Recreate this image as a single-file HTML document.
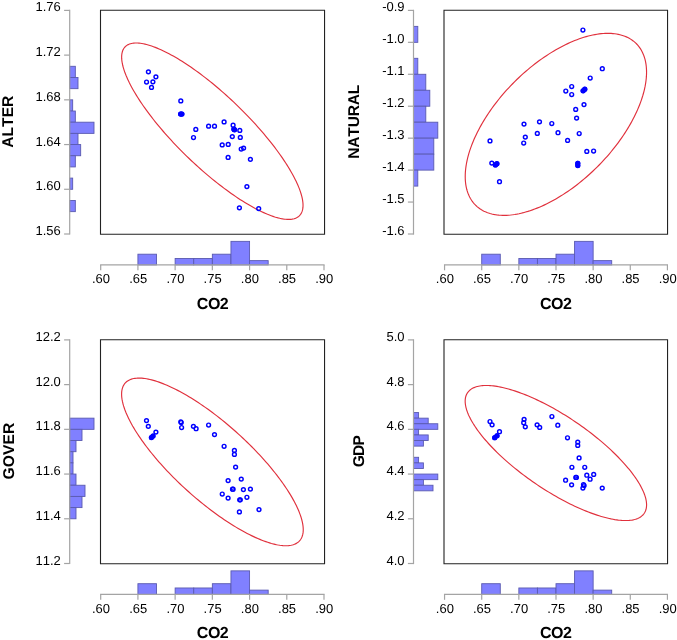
<!DOCTYPE html>
<html><head><meta charset="utf-8"><style>
html,body{margin:0;padding:0;background:#fff;}
svg{display:block;will-change:transform;text-rendering:geometricPrecision;}
text{font-family:"Liberation Sans", sans-serif;fill:#000;font-kerning:none;}
</style></head><body>
<svg width="677" height="640" viewBox="0 0 677 640">
<rect width="677" height="640" fill="#fff"/>
<rect x="69.70" y="66.30" width="5.63" height="11.18" fill="#8080ff" stroke="#5a5ab0" stroke-width="0.9"/>
<rect x="69.70" y="77.48" width="8.30" height="11.18" fill="#8080ff" stroke="#5a5ab0" stroke-width="0.9"/>
<rect x="69.70" y="99.84" width="2.97" height="11.18" fill="#8080ff" stroke="#5a5ab0" stroke-width="0.9"/>
<rect x="69.70" y="111.02" width="5.63" height="11.18" fill="#8080ff" stroke="#5a5ab0" stroke-width="0.9"/>
<rect x="69.70" y="122.20" width="24.30" height="11.18" fill="#8080ff" stroke="#5a5ab0" stroke-width="0.9"/>
<rect x="69.70" y="133.38" width="8.30" height="11.18" fill="#8080ff" stroke="#5a5ab0" stroke-width="0.9"/>
<rect x="69.70" y="144.56" width="10.97" height="11.18" fill="#8080ff" stroke="#5a5ab0" stroke-width="0.9"/>
<rect x="69.70" y="155.74" width="5.63" height="11.18" fill="#8080ff" stroke="#5a5ab0" stroke-width="0.9"/>
<rect x="69.70" y="178.10" width="2.97" height="11.18" fill="#8080ff" stroke="#5a5ab0" stroke-width="0.9"/>
<rect x="69.70" y="200.46" width="5.63" height="11.18" fill="#8080ff" stroke="#5a5ab0" stroke-width="0.9"/>
<line x1="69.7" y1="9.80" x2="69.7" y2="234.60" stroke="#a4a4a4" stroke-width="1.2"/>
<line x1="64.10" y1="10.40" x2="69.70" y2="10.40" stroke="#a4a4a4" stroke-width="1.2"/>
<text x="60.80" y="11.40" text-anchor="end" font-size="13">1.76</text>
<line x1="64.10" y1="55.12" x2="69.70" y2="55.12" stroke="#a4a4a4" stroke-width="1.2"/>
<text x="60.80" y="56.12" text-anchor="end" font-size="13">1.72</text>
<line x1="64.10" y1="99.84" x2="69.70" y2="99.84" stroke="#a4a4a4" stroke-width="1.2"/>
<text x="60.80" y="100.84" text-anchor="end" font-size="13">1.68</text>
<line x1="64.10" y1="144.56" x2="69.70" y2="144.56" stroke="#a4a4a4" stroke-width="1.2"/>
<text x="60.80" y="145.56" text-anchor="end" font-size="13">1.64</text>
<line x1="64.10" y1="189.28" x2="69.70" y2="189.28" stroke="#a4a4a4" stroke-width="1.2"/>
<text x="60.80" y="190.28" text-anchor="end" font-size="13">1.60</text>
<line x1="64.10" y1="234.00" x2="69.70" y2="234.00" stroke="#a4a4a4" stroke-width="1.2"/>
<text x="60.80" y="235.00" text-anchor="end" font-size="13">1.56</text>
<text transform="translate(13.40,121.70) rotate(-90)" text-anchor="middle" font-size="15.6" font-weight="bold" textLength="52.1" lengthAdjust="spacing">ALTER</text>
<path d="M100.50,10.30 H324.55 V234.20 H100.50 Z" fill="none" stroke="#222222" stroke-width="1.1"/>
<rect x="137.92" y="254.20" width="18.61" height="10.70" fill="#8080ff" stroke="#5a5ab0" stroke-width="0.9"/>
<rect x="175.13" y="258.48" width="18.61" height="6.42" fill="#8080ff" stroke="#5a5ab0" stroke-width="0.9"/>
<rect x="193.74" y="258.48" width="18.61" height="6.42" fill="#8080ff" stroke="#5a5ab0" stroke-width="0.9"/>
<rect x="212.35" y="254.20" width="18.61" height="10.70" fill="#8080ff" stroke="#5a5ab0" stroke-width="0.9"/>
<rect x="230.96" y="241.36" width="18.61" height="23.54" fill="#8080ff" stroke="#5a5ab0" stroke-width="0.9"/>
<rect x="249.57" y="260.62" width="18.61" height="4.28" fill="#8080ff" stroke="#5a5ab0" stroke-width="0.9"/>
<line x1="100.10" y1="264.9" x2="324.60" y2="264.9" stroke="#a4a4a4" stroke-width="1.2"/>
<line x1="100.70" y1="264.9" x2="100.70" y2="270.30" stroke="#a4a4a4" stroke-width="1.2"/>
<text x="101.00" y="283.40" text-anchor="middle" font-size="13">.60</text>
<line x1="137.92" y1="264.9" x2="137.92" y2="270.30" stroke="#a4a4a4" stroke-width="1.2"/>
<text x="138.22" y="283.40" text-anchor="middle" font-size="13">.65</text>
<line x1="175.13" y1="264.9" x2="175.13" y2="270.30" stroke="#a4a4a4" stroke-width="1.2"/>
<text x="175.43" y="283.40" text-anchor="middle" font-size="13">.70</text>
<line x1="212.35" y1="264.9" x2="212.35" y2="270.30" stroke="#a4a4a4" stroke-width="1.2"/>
<text x="212.65" y="283.40" text-anchor="middle" font-size="13">.75</text>
<line x1="249.57" y1="264.9" x2="249.57" y2="270.30" stroke="#a4a4a4" stroke-width="1.2"/>
<text x="249.87" y="283.40" text-anchor="middle" font-size="13">.80</text>
<line x1="286.78" y1="264.9" x2="286.78" y2="270.30" stroke="#a4a4a4" stroke-width="1.2"/>
<text x="287.08" y="283.40" text-anchor="middle" font-size="13">.85</text>
<line x1="324.00" y1="264.9" x2="324.00" y2="270.30" stroke="#a4a4a4" stroke-width="1.2"/>
<text x="324.30" y="283.40" text-anchor="middle" font-size="13">.90</text>
<text x="212.78" y="308.50" text-anchor="middle" font-size="16" font-weight="bold" textLength="31.9" lengthAdjust="spacing">CO2</text>
<path d="M303.03,205.30 L303.00,206.53 L302.91,207.70 L302.75,208.83 L302.54,209.90 L302.26,210.91 L301.92,211.88 L301.51,212.78 L301.05,213.63 L300.53,214.43 L299.94,215.17 L299.30,215.85 L298.59,216.47 L297.83,217.03 L297.01,217.54 L296.13,217.98 L295.19,218.37 L294.20,218.69 L293.15,218.96 L292.04,219.17 L290.88,219.31 L289.67,219.40 L288.40,219.42 L287.08,219.39 L285.71,219.29 L284.29,219.13 L282.82,218.92 L281.30,218.64 L279.74,218.30 L278.13,217.91 L276.47,217.45 L274.77,216.94 L273.02,216.36 L271.24,215.73 L269.41,215.04 L267.55,214.30 L265.65,213.49 L263.71,212.63 L261.73,211.71 L259.73,210.74 L257.69,209.72 L255.61,208.64 L253.51,207.50 L251.38,206.32 L249.23,205.08 L247.05,203.79 L244.84,202.46 L242.61,201.07 L240.36,199.64 L238.10,198.16 L235.81,196.63 L233.51,195.06 L231.19,193.44 L228.87,191.78 L226.53,190.09 L224.18,188.35 L221.82,186.57 L219.45,184.75 L217.08,182.90 L214.71,181.01 L212.34,179.08 L209.96,177.13 L207.59,175.14 L205.22,173.12 L202.86,171.08 L200.50,169.00 L198.15,166.90 L195.81,164.78 L193.48,162.63 L191.17,160.46 L188.86,158.27 L186.58,156.07 L184.31,153.84 L182.06,151.60 L179.84,149.35 L177.63,147.08 L175.45,144.81 L173.29,142.52 L171.16,140.23 L169.06,137.93 L166.99,135.62 L164.95,133.31 L162.94,131.00 L160.97,128.69 L159.03,126.39 L157.13,124.08 L155.26,121.78 L153.44,119.49 L151.65,117.21 L149.91,114.93 L148.21,112.67 L146.55,110.42 L144.94,108.18 L143.37,105.96 L141.86,103.75 L140.39,101.57 L138.96,99.40 L137.59,97.26 L136.28,95.14 L135.01,93.04 L133.79,90.98 L132.63,88.93 L131.53,86.92 L130.48,84.94 L129.48,82.99 L128.55,81.07 L127.67,79.19 L126.85,77.34 L126.08,75.53 L125.38,73.76 L124.73,72.03 L124.15,70.33 L123.63,68.68 L123.16,67.07 L122.76,65.51 L122.42,63.99 L122.14,62.52 L121.92,61.09 L121.77,59.72 L121.67,58.39 L121.64,57.11 L121.67,55.88 L121.77,54.70 L121.92,53.58 L122.14,52.51 L122.42,51.49 L122.76,50.53 L123.16,49.62 L123.63,48.77 L124.15,47.98 L124.73,47.24 L125.38,46.56 L126.08,45.94 L126.85,45.37 L127.67,44.87 L128.55,44.42 L129.48,44.04 L130.48,43.71 L131.53,43.45 L132.63,43.24 L133.79,43.09 L135.01,43.01 L136.28,42.98 L137.59,43.02 L138.96,43.12 L140.39,43.27 L141.86,43.49 L143.37,43.76 L144.94,44.10 L146.55,44.50 L148.21,44.95 L149.91,45.47 L151.65,46.04 L153.44,46.67 L155.26,47.36 L157.13,48.11 L159.03,48.91 L160.97,49.78 L162.94,50.69 L164.95,51.66 L166.99,52.69 L169.06,53.77 L171.16,54.90 L173.29,56.09 L175.45,57.32 L177.63,58.61 L179.84,59.95 L182.06,61.33 L184.31,62.77 L186.58,64.25 L188.86,65.78 L191.17,67.35 L193.48,68.96 L195.81,70.62 L198.15,72.32 L200.50,74.06 L202.86,75.84 L205.22,77.66 L207.59,79.51 L209.96,81.40 L212.34,83.32 L214.71,85.28 L217.08,87.27 L219.45,89.28 L221.82,91.33 L224.18,93.40 L226.53,95.50 L228.87,97.63 L231.19,99.77 L233.51,101.94 L235.81,104.13 L238.10,106.34 L240.36,108.56 L242.61,110.80 L244.84,113.06 L247.05,115.32 L249.23,117.60 L251.38,119.88 L253.51,122.18 L255.61,124.48 L257.69,126.78 L259.73,129.09 L261.73,131.40 L263.71,133.71 L265.65,136.02 L267.55,138.32 L269.41,140.62 L271.24,142.91 L273.02,145.20 L274.77,147.47 L276.47,149.74 L278.13,151.99 L279.74,154.23 L281.30,156.45 L282.82,158.65 L284.29,160.84 L285.71,163.00 L287.08,165.15 L288.40,167.27 L289.67,169.36 L290.88,171.43 L292.04,173.47 L293.15,175.48 L294.20,177.47 L295.19,179.42 L296.13,181.33 L297.01,183.22 L297.83,185.06 L298.59,186.88 L299.30,188.65 L299.94,190.38 L300.53,192.07 L301.05,193.72 L301.51,195.33 L301.92,196.90 L302.26,198.41 L302.54,199.89 L302.75,201.31 L302.91,202.69 L303.00,204.02 L303.03,205.30 Z" fill="none" stroke="#e0303c" stroke-width="1.15"/>
<circle cx="146.55" cy="82.00" r="1.9" fill="none" stroke="#0000ff" stroke-width="1.45"/>
<circle cx="148.40" cy="71.85" r="1.9" fill="none" stroke="#0000ff" stroke-width="1.45"/>
<circle cx="151.50" cy="87.40" r="1.9" fill="none" stroke="#0000ff" stroke-width="1.45"/>
<circle cx="152.90" cy="81.80" r="1.9" fill="none" stroke="#0000ff" stroke-width="1.45"/>
<circle cx="155.90" cy="76.80" r="1.9" fill="none" stroke="#0000ff" stroke-width="1.45"/>
<circle cx="180.80" cy="100.90" r="1.9" fill="none" stroke="#0000ff" stroke-width="1.45"/>
<circle cx="180.60" cy="114.00" r="1.9" fill="none" stroke="#0000ff" stroke-width="1.45"/>
<circle cx="181.90" cy="114.00" r="1.9" fill="none" stroke="#0000ff" stroke-width="1.45"/>
<circle cx="195.80" cy="129.40" r="1.9" fill="none" stroke="#0000ff" stroke-width="1.45"/>
<circle cx="193.50" cy="137.50" r="1.9" fill="none" stroke="#0000ff" stroke-width="1.45"/>
<circle cx="208.60" cy="126.20" r="1.9" fill="none" stroke="#0000ff" stroke-width="1.45"/>
<circle cx="214.50" cy="126.20" r="1.9" fill="none" stroke="#0000ff" stroke-width="1.45"/>
<circle cx="224.10" cy="121.90" r="1.9" fill="none" stroke="#0000ff" stroke-width="1.45"/>
<circle cx="233.10" cy="125.20" r="1.9" fill="none" stroke="#0000ff" stroke-width="1.45"/>
<circle cx="233.80" cy="129.10" r="1.9" fill="none" stroke="#0000ff" stroke-width="1.45"/>
<circle cx="234.60" cy="129.80" r="1.9" fill="none" stroke="#0000ff" stroke-width="1.45"/>
<circle cx="234.20" cy="129.60" r="1.9" fill="none" stroke="#0000ff" stroke-width="1.45"/>
<circle cx="239.80" cy="130.40" r="1.9" fill="none" stroke="#0000ff" stroke-width="1.45"/>
<circle cx="232.30" cy="136.60" r="1.9" fill="none" stroke="#0000ff" stroke-width="1.45"/>
<circle cx="240.30" cy="137.40" r="1.9" fill="none" stroke="#0000ff" stroke-width="1.45"/>
<circle cx="222.20" cy="144.90" r="1.9" fill="none" stroke="#0000ff" stroke-width="1.45"/>
<circle cx="228.20" cy="144.40" r="1.9" fill="none" stroke="#0000ff" stroke-width="1.45"/>
<circle cx="241.20" cy="149.00" r="1.9" fill="none" stroke="#0000ff" stroke-width="1.45"/>
<circle cx="243.60" cy="148.10" r="1.9" fill="none" stroke="#0000ff" stroke-width="1.45"/>
<circle cx="228.10" cy="157.40" r="1.9" fill="none" stroke="#0000ff" stroke-width="1.45"/>
<circle cx="250.40" cy="159.30" r="1.9" fill="none" stroke="#0000ff" stroke-width="1.45"/>
<circle cx="246.90" cy="186.60" r="1.9" fill="none" stroke="#0000ff" stroke-width="1.45"/>
<circle cx="239.40" cy="207.80" r="1.9" fill="none" stroke="#0000ff" stroke-width="1.45"/>
<circle cx="258.70" cy="208.60" r="1.9" fill="none" stroke="#0000ff" stroke-width="1.45"/>
<circle cx="180.60" cy="114.00" r="2.5" fill="#0000ff"/>
<circle cx="181.90" cy="114.00" r="2.5" fill="#0000ff"/>
<circle cx="234.30" cy="129.50" r="2.55" fill="#0000ff"/>
<rect x="413.50" y="26.37" width="4.30" height="15.97" fill="#8080ff" stroke="#5a5ab0" stroke-width="0.9"/>
<rect x="413.50" y="58.31" width="4.30" height="15.97" fill="#8080ff" stroke="#5a5ab0" stroke-width="0.9"/>
<rect x="413.50" y="74.29" width="12.30" height="15.97" fill="#8080ff" stroke="#5a5ab0" stroke-width="0.9"/>
<rect x="413.50" y="90.26" width="16.30" height="15.97" fill="#8080ff" stroke="#5a5ab0" stroke-width="0.9"/>
<rect x="413.50" y="106.23" width="12.30" height="15.97" fill="#8080ff" stroke="#5a5ab0" stroke-width="0.9"/>
<rect x="413.50" y="122.20" width="24.30" height="15.97" fill="#8080ff" stroke="#5a5ab0" stroke-width="0.9"/>
<rect x="413.50" y="138.17" width="20.30" height="15.97" fill="#8080ff" stroke="#5a5ab0" stroke-width="0.9"/>
<rect x="413.50" y="154.14" width="20.30" height="15.97" fill="#8080ff" stroke="#5a5ab0" stroke-width="0.9"/>
<rect x="413.50" y="170.11" width="4.30" height="15.97" fill="#8080ff" stroke="#5a5ab0" stroke-width="0.9"/>
<line x1="413.5" y1="9.80" x2="413.5" y2="234.60" stroke="#a4a4a4" stroke-width="1.2"/>
<line x1="407.90" y1="10.40" x2="413.50" y2="10.40" stroke="#a4a4a4" stroke-width="1.2"/>
<text x="404.60" y="11.40" text-anchor="end" font-size="13">-0.9</text>
<line x1="407.90" y1="42.34" x2="413.50" y2="42.34" stroke="#a4a4a4" stroke-width="1.2"/>
<text x="404.60" y="43.34" text-anchor="end" font-size="13">-1.0</text>
<line x1="407.90" y1="74.29" x2="413.50" y2="74.29" stroke="#a4a4a4" stroke-width="1.2"/>
<text x="404.60" y="75.29" text-anchor="end" font-size="13">-1.1</text>
<line x1="407.90" y1="106.23" x2="413.50" y2="106.23" stroke="#a4a4a4" stroke-width="1.2"/>
<text x="404.60" y="107.23" text-anchor="end" font-size="13">-1.2</text>
<line x1="407.90" y1="138.17" x2="413.50" y2="138.17" stroke="#a4a4a4" stroke-width="1.2"/>
<text x="404.60" y="139.17" text-anchor="end" font-size="13">-1.3</text>
<line x1="407.90" y1="170.11" x2="413.50" y2="170.11" stroke="#a4a4a4" stroke-width="1.2"/>
<text x="404.60" y="171.11" text-anchor="end" font-size="13">-1.4</text>
<line x1="407.90" y1="202.06" x2="413.50" y2="202.06" stroke="#a4a4a4" stroke-width="1.2"/>
<text x="404.60" y="203.06" text-anchor="end" font-size="13">-1.5</text>
<line x1="407.90" y1="234.00" x2="413.50" y2="234.00" stroke="#a4a4a4" stroke-width="1.2"/>
<text x="404.60" y="235.00" text-anchor="end" font-size="13">-1.6</text>
<text transform="translate(359.30,121.70) rotate(-90)" text-anchor="middle" font-size="15.6" font-weight="bold" textLength="74.1" lengthAdjust="spacing">NATURAL</text>
<path d="M444.00,10.30 H667.55 V234.20 H444.00 Z" fill="none" stroke="#222222" stroke-width="1.1"/>
<rect x="481.71" y="254.20" width="18.57" height="10.70" fill="#8080ff" stroke="#5a5ab0" stroke-width="0.9"/>
<rect x="518.85" y="258.48" width="18.57" height="6.42" fill="#8080ff" stroke="#5a5ab0" stroke-width="0.9"/>
<rect x="537.42" y="258.48" width="18.57" height="6.42" fill="#8080ff" stroke="#5a5ab0" stroke-width="0.9"/>
<rect x="556.00" y="254.20" width="18.57" height="10.70" fill="#8080ff" stroke="#5a5ab0" stroke-width="0.9"/>
<rect x="574.57" y="241.36" width="18.57" height="23.54" fill="#8080ff" stroke="#5a5ab0" stroke-width="0.9"/>
<rect x="593.14" y="260.62" width="18.57" height="4.28" fill="#8080ff" stroke="#5a5ab0" stroke-width="0.9"/>
<line x1="443.96" y1="264.9" x2="668.03" y2="264.9" stroke="#a4a4a4" stroke-width="1.2"/>
<line x1="444.56" y1="264.9" x2="444.56" y2="270.30" stroke="#a4a4a4" stroke-width="1.2"/>
<text x="444.86" y="283.40" text-anchor="middle" font-size="13">.60</text>
<line x1="481.71" y1="264.9" x2="481.71" y2="270.30" stroke="#a4a4a4" stroke-width="1.2"/>
<text x="482.01" y="283.40" text-anchor="middle" font-size="13">.65</text>
<line x1="518.85" y1="264.9" x2="518.85" y2="270.30" stroke="#a4a4a4" stroke-width="1.2"/>
<text x="519.15" y="283.40" text-anchor="middle" font-size="13">.70</text>
<line x1="556.00" y1="264.9" x2="556.00" y2="270.30" stroke="#a4a4a4" stroke-width="1.2"/>
<text x="556.29" y="283.40" text-anchor="middle" font-size="13">.75</text>
<line x1="593.14" y1="264.9" x2="593.14" y2="270.30" stroke="#a4a4a4" stroke-width="1.2"/>
<text x="593.44" y="283.40" text-anchor="middle" font-size="13">.80</text>
<line x1="630.28" y1="264.9" x2="630.28" y2="270.30" stroke="#a4a4a4" stroke-width="1.2"/>
<text x="630.58" y="283.40" text-anchor="middle" font-size="13">.85</text>
<line x1="667.43" y1="264.9" x2="667.43" y2="270.30" stroke="#a4a4a4" stroke-width="1.2"/>
<text x="667.73" y="283.40" text-anchor="middle" font-size="13">.90</text>
<text x="556.02" y="308.50" text-anchor="middle" font-size="16" font-weight="bold" textLength="31.9" lengthAdjust="spacing">CO2</text>
<path d="M646.55,72.19 L646.52,74.16 L646.42,76.16 L646.27,78.20 L646.05,80.27 L645.77,82.37 L645.43,84.49 L645.03,86.65 L644.57,88.83 L644.04,91.04 L643.46,93.26 L642.82,95.51 L642.11,97.78 L641.35,100.07 L640.53,102.37 L639.65,104.69 L638.71,107.03 L637.72,109.37 L636.67,111.73 L635.56,114.09 L634.40,116.46 L633.19,118.84 L631.92,121.22 L630.60,123.60 L629.23,125.98 L627.81,128.36 L626.34,130.74 L624.83,133.12 L623.26,135.48 L621.65,137.85 L620.00,140.20 L618.29,142.54 L616.55,144.87 L614.77,147.18 L612.94,149.48 L611.08,151.76 L609.18,154.02 L607.24,156.26 L605.27,158.48 L603.26,160.68 L601.22,162.85 L599.15,165.00 L597.05,167.12 L594.92,169.21 L592.76,171.26 L590.58,173.29 L588.38,175.28 L586.15,177.24 L583.90,179.16 L581.64,181.04 L579.35,182.89 L577.05,184.69 L574.74,186.46 L572.41,188.18 L570.07,189.85 L567.72,191.48 L565.36,193.07 L563.00,194.61 L560.63,196.10 L558.26,197.54 L555.89,198.93 L553.51,200.27 L551.14,201.56 L548.77,202.80 L546.41,203.98 L544.05,205.11 L541.71,206.18 L539.37,207.19 L537.04,208.15 L534.72,209.05 L532.42,209.90 L530.14,210.68 L527.87,211.41 L525.62,212.07 L523.40,212.68 L521.19,213.22 L519.01,213.71 L516.86,214.13 L514.73,214.49 L512.63,214.79 L510.56,215.03 L508.52,215.21 L506.51,215.32 L504.54,215.37 L502.60,215.36 L500.70,215.29 L498.83,215.15 L497.01,214.95 L495.22,214.69 L493.48,214.37 L491.78,213.99 L490.12,213.54 L488.51,213.04 L486.95,212.47 L485.43,211.84 L483.96,211.15 L482.54,210.41 L481.17,209.60 L479.85,208.74 L478.59,207.81 L477.37,206.84 L476.21,205.80 L475.11,204.71 L474.06,203.56 L473.06,202.36 L472.13,201.11 L471.25,199.80 L470.43,198.44 L469.66,197.03 L468.96,195.57 L468.32,194.06 L467.73,192.51 L467.21,190.90 L466.74,189.26 L466.34,187.56 L466.00,185.83 L465.72,184.05 L465.51,182.23 L465.35,180.37 L465.26,178.47 L465.23,176.54 L465.26,174.57 L465.35,172.57 L465.51,170.53 L465.72,168.46 L466.00,166.36 L466.34,164.23 L466.74,162.08 L467.21,159.90 L467.73,157.69 L468.32,155.46 L468.96,153.21 L469.66,150.94 L470.43,148.66 L471.25,146.35 L472.13,144.03 L473.06,141.70 L474.06,139.35 L475.11,137.00 L476.21,134.64 L477.37,132.27 L478.59,129.89 L479.85,127.51 L481.17,125.13 L482.54,122.74 L483.96,120.36 L485.43,117.98 L486.95,115.61 L488.51,113.24 L490.12,110.88 L491.78,108.53 L493.48,106.19 L495.22,103.86 L497.01,101.55 L498.83,99.25 L500.70,96.97 L502.60,94.70 L504.54,92.46 L506.51,90.24 L508.52,88.04 L510.56,85.87 L512.63,83.73 L514.73,81.61 L516.86,79.52 L519.01,77.46 L521.19,75.44 L523.40,73.44 L525.62,71.49 L527.87,69.57 L530.14,67.68 L532.42,65.84 L534.72,64.03 L537.04,62.27 L539.37,60.55 L541.71,58.87 L544.05,57.24 L546.41,55.66 L548.77,54.12 L551.14,52.63 L553.51,51.18 L555.89,49.79 L558.26,48.45 L560.63,47.16 L563.00,45.93 L565.36,44.75 L567.72,43.62 L570.07,42.55 L572.41,41.53 L574.74,40.57 L577.05,39.67 L579.35,38.83 L581.64,38.04 L583.90,37.32 L586.15,36.65 L588.38,36.05 L590.58,35.50 L592.76,35.02 L594.92,34.59 L597.05,34.23 L599.15,33.93 L601.22,33.69 L603.26,33.52 L605.27,33.41 L607.24,33.35 L609.18,33.37 L611.08,33.44 L612.94,33.57 L614.77,33.77 L616.55,34.03 L618.29,34.36 L620.00,34.74 L621.65,35.18 L623.26,35.69 L624.83,36.26 L626.34,36.89 L627.81,37.57 L629.23,38.32 L630.60,39.13 L631.92,39.99 L633.19,40.91 L634.40,41.89 L635.56,42.93 L636.67,44.02 L637.72,45.17 L638.71,46.37 L639.65,47.62 L640.53,48.93 L641.35,50.29 L642.11,51.70 L642.82,53.16 L643.46,54.66 L644.04,56.22 L644.57,57.82 L645.03,59.47 L645.43,61.16 L645.77,62.90 L646.05,64.68 L646.27,66.50 L646.42,68.35 L646.52,70.25 L646.55,72.19 Z" fill="none" stroke="#e0303c" stroke-width="1.15"/>
<circle cx="490.00" cy="140.90" r="1.9" fill="none" stroke="#0000ff" stroke-width="1.45"/>
<circle cx="491.80" cy="163.10" r="1.9" fill="none" stroke="#0000ff" stroke-width="1.45"/>
<circle cx="495.40" cy="164.90" r="1.9" fill="none" stroke="#0000ff" stroke-width="1.45"/>
<circle cx="496.90" cy="163.70" r="1.9" fill="none" stroke="#0000ff" stroke-width="1.45"/>
<circle cx="499.50" cy="181.70" r="1.9" fill="none" stroke="#0000ff" stroke-width="1.45"/>
<circle cx="524.00" cy="124.10" r="1.9" fill="none" stroke="#0000ff" stroke-width="1.45"/>
<circle cx="525.30" cy="137.10" r="1.9" fill="none" stroke="#0000ff" stroke-width="1.45"/>
<circle cx="523.70" cy="143.00" r="1.9" fill="none" stroke="#0000ff" stroke-width="1.45"/>
<circle cx="537.30" cy="133.40" r="1.9" fill="none" stroke="#0000ff" stroke-width="1.45"/>
<circle cx="539.50" cy="121.80" r="1.9" fill="none" stroke="#0000ff" stroke-width="1.45"/>
<circle cx="551.80" cy="123.50" r="1.9" fill="none" stroke="#0000ff" stroke-width="1.45"/>
<circle cx="558.00" cy="132.70" r="1.9" fill="none" stroke="#0000ff" stroke-width="1.45"/>
<circle cx="565.80" cy="91.00" r="1.9" fill="none" stroke="#0000ff" stroke-width="1.45"/>
<circle cx="567.60" cy="140.40" r="1.9" fill="none" stroke="#0000ff" stroke-width="1.45"/>
<circle cx="571.70" cy="86.50" r="1.9" fill="none" stroke="#0000ff" stroke-width="1.45"/>
<circle cx="571.70" cy="94.50" r="1.9" fill="none" stroke="#0000ff" stroke-width="1.45"/>
<circle cx="575.70" cy="109.40" r="1.9" fill="none" stroke="#0000ff" stroke-width="1.45"/>
<circle cx="576.60" cy="118.10" r="1.9" fill="none" stroke="#0000ff" stroke-width="1.45"/>
<circle cx="577.80" cy="163.30" r="1.9" fill="none" stroke="#0000ff" stroke-width="1.45"/>
<circle cx="577.80" cy="165.50" r="1.9" fill="none" stroke="#0000ff" stroke-width="1.45"/>
<circle cx="579.20" cy="133.50" r="1.9" fill="none" stroke="#0000ff" stroke-width="1.45"/>
<circle cx="582.90" cy="30.00" r="1.9" fill="none" stroke="#0000ff" stroke-width="1.45"/>
<circle cx="583.10" cy="90.80" r="1.9" fill="none" stroke="#0000ff" stroke-width="1.45"/>
<circle cx="584.80" cy="89.20" r="1.9" fill="none" stroke="#0000ff" stroke-width="1.45"/>
<circle cx="584.00" cy="104.60" r="1.9" fill="none" stroke="#0000ff" stroke-width="1.45"/>
<circle cx="586.80" cy="151.40" r="1.9" fill="none" stroke="#0000ff" stroke-width="1.45"/>
<circle cx="590.20" cy="78.00" r="1.9" fill="none" stroke="#0000ff" stroke-width="1.45"/>
<circle cx="593.60" cy="151.00" r="1.9" fill="none" stroke="#0000ff" stroke-width="1.45"/>
<circle cx="602.30" cy="68.70" r="1.9" fill="none" stroke="#0000ff" stroke-width="1.45"/>
<circle cx="495.40" cy="164.90" r="2.5" fill="#0000ff"/>
<circle cx="496.90" cy="163.70" r="2.5" fill="#0000ff"/>
<circle cx="577.80" cy="163.30" r="2.5" fill="#0000ff"/>
<circle cx="577.80" cy="165.50" r="2.5" fill="#0000ff"/>
<circle cx="583.10" cy="90.80" r="2.5" fill="#0000ff"/>
<circle cx="584.80" cy="89.20" r="2.5" fill="#0000ff"/>
<rect x="69.70" y="418.16" width="24.30" height="11.18" fill="#8080ff" stroke="#5a5ab0" stroke-width="0.9"/>
<rect x="69.70" y="429.34" width="12.30" height="11.18" fill="#8080ff" stroke="#5a5ab0" stroke-width="0.9"/>
<rect x="69.70" y="440.52" width="6.30" height="11.18" fill="#8080ff" stroke="#5a5ab0" stroke-width="0.9"/>
<rect x="69.70" y="451.70" width="3.30" height="11.18" fill="#8080ff" stroke="#5a5ab0" stroke-width="0.9"/>
<rect x="69.70" y="462.88" width="3.30" height="11.18" fill="#8080ff" stroke="#5a5ab0" stroke-width="0.9"/>
<rect x="69.70" y="474.06" width="6.30" height="11.18" fill="#8080ff" stroke="#5a5ab0" stroke-width="0.9"/>
<rect x="69.70" y="485.24" width="15.30" height="11.18" fill="#8080ff" stroke="#5a5ab0" stroke-width="0.9"/>
<rect x="69.70" y="496.42" width="12.30" height="11.18" fill="#8080ff" stroke="#5a5ab0" stroke-width="0.9"/>
<rect x="69.70" y="507.60" width="6.30" height="11.18" fill="#8080ff" stroke="#5a5ab0" stroke-width="0.9"/>
<line x1="69.7" y1="339.30" x2="69.7" y2="564.10" stroke="#a4a4a4" stroke-width="1.2"/>
<line x1="64.10" y1="339.90" x2="69.70" y2="339.90" stroke="#a4a4a4" stroke-width="1.2"/>
<text x="60.80" y="340.90" text-anchor="end" font-size="13">12.2</text>
<line x1="64.10" y1="384.62" x2="69.70" y2="384.62" stroke="#a4a4a4" stroke-width="1.2"/>
<text x="60.80" y="385.62" text-anchor="end" font-size="13">12.0</text>
<line x1="64.10" y1="429.34" x2="69.70" y2="429.34" stroke="#a4a4a4" stroke-width="1.2"/>
<text x="60.80" y="430.34" text-anchor="end" font-size="13">11.8</text>
<line x1="64.10" y1="474.06" x2="69.70" y2="474.06" stroke="#a4a4a4" stroke-width="1.2"/>
<text x="60.80" y="475.06" text-anchor="end" font-size="13">11.6</text>
<line x1="64.10" y1="518.78" x2="69.70" y2="518.78" stroke="#a4a4a4" stroke-width="1.2"/>
<text x="60.80" y="519.78" text-anchor="end" font-size="13">11.4</text>
<line x1="64.10" y1="563.50" x2="69.70" y2="563.50" stroke="#a4a4a4" stroke-width="1.2"/>
<text x="60.80" y="564.50" text-anchor="end" font-size="13">11.2</text>
<text transform="translate(13.50,451.20) rotate(-90)" text-anchor="middle" font-size="15.6" font-weight="bold" textLength="56.8" lengthAdjust="spacing">GOVER</text>
<path d="M100.50,339.80 H324.55 V563.70 H100.50 Z" fill="none" stroke="#222222" stroke-width="1.1"/>
<rect x="137.92" y="583.70" width="18.61" height="10.70" fill="#8080ff" stroke="#5a5ab0" stroke-width="0.9"/>
<rect x="175.13" y="587.98" width="18.61" height="6.42" fill="#8080ff" stroke="#5a5ab0" stroke-width="0.9"/>
<rect x="193.74" y="587.98" width="18.61" height="6.42" fill="#8080ff" stroke="#5a5ab0" stroke-width="0.9"/>
<rect x="212.35" y="583.70" width="18.61" height="10.70" fill="#8080ff" stroke="#5a5ab0" stroke-width="0.9"/>
<rect x="230.96" y="570.86" width="18.61" height="23.54" fill="#8080ff" stroke="#5a5ab0" stroke-width="0.9"/>
<rect x="249.57" y="590.12" width="18.61" height="4.28" fill="#8080ff" stroke="#5a5ab0" stroke-width="0.9"/>
<line x1="100.10" y1="594.4" x2="324.60" y2="594.4" stroke="#a4a4a4" stroke-width="1.2"/>
<line x1="100.70" y1="594.4" x2="100.70" y2="599.80" stroke="#a4a4a4" stroke-width="1.2"/>
<text x="101.00" y="612.90" text-anchor="middle" font-size="13">.60</text>
<line x1="137.92" y1="594.4" x2="137.92" y2="599.80" stroke="#a4a4a4" stroke-width="1.2"/>
<text x="138.22" y="612.90" text-anchor="middle" font-size="13">.65</text>
<line x1="175.13" y1="594.4" x2="175.13" y2="599.80" stroke="#a4a4a4" stroke-width="1.2"/>
<text x="175.43" y="612.90" text-anchor="middle" font-size="13">.70</text>
<line x1="212.35" y1="594.4" x2="212.35" y2="599.80" stroke="#a4a4a4" stroke-width="1.2"/>
<text x="212.65" y="612.90" text-anchor="middle" font-size="13">.75</text>
<line x1="249.57" y1="594.4" x2="249.57" y2="599.80" stroke="#a4a4a4" stroke-width="1.2"/>
<text x="249.87" y="612.90" text-anchor="middle" font-size="13">.80</text>
<line x1="286.78" y1="594.4" x2="286.78" y2="599.80" stroke="#a4a4a4" stroke-width="1.2"/>
<text x="287.08" y="612.90" text-anchor="middle" font-size="13">.85</text>
<line x1="324.00" y1="594.4" x2="324.00" y2="599.80" stroke="#a4a4a4" stroke-width="1.2"/>
<text x="324.30" y="612.90" text-anchor="middle" font-size="13">.90</text>
<text x="212.78" y="638.00" text-anchor="middle" font-size="16" font-weight="bold" textLength="31.9" lengthAdjust="spacing">CO2</text>
<path d="M303.24,529.65 L303.21,530.92 L303.12,532.14 L302.96,533.32 L302.74,534.44 L302.46,535.52 L302.12,536.54 L301.72,537.51 L301.26,538.43 L300.73,539.30 L300.15,540.12 L299.50,540.88 L298.80,541.59 L298.03,542.24 L297.21,542.84 L296.33,543.38 L295.39,543.87 L294.39,544.30 L293.34,544.68 L292.23,545.00 L291.07,545.26 L289.86,545.46 L288.59,545.61 L287.27,545.70 L285.89,545.73 L284.47,545.70 L283.00,545.62 L281.48,545.48 L279.91,545.28 L278.30,545.02 L276.64,544.71 L274.94,544.34 L273.19,543.92 L271.40,543.44 L269.57,542.90 L267.71,542.31 L265.80,541.66 L263.86,540.96 L261.88,540.20 L259.87,539.39 L257.83,538.53 L255.76,537.61 L253.65,536.64 L251.52,535.62 L249.36,534.55 L247.17,533.43 L244.97,532.26 L242.74,531.05 L240.48,529.78 L238.21,528.47 L235.93,527.12 L233.62,525.72 L231.30,524.27 L228.97,522.78 L226.63,521.25 L224.27,519.68 L221.91,518.08 L219.54,516.43 L217.17,514.74 L214.80,513.02 L212.42,511.26 L210.04,509.47 L207.67,507.65 L205.29,505.80 L202.93,503.91 L200.56,502.00 L198.21,500.06 L195.87,498.09 L193.54,496.10 L191.22,494.08 L188.91,492.05 L186.62,489.99 L184.35,487.91 L182.10,485.82 L179.87,483.71 L177.66,481.58 L175.48,479.44 L173.32,477.29 L171.19,475.13 L169.08,472.96 L167.01,470.78 L164.97,468.59 L162.95,466.40 L160.98,464.21 L159.04,462.02 L157.13,459.82 L155.26,457.63 L153.44,455.44 L151.65,453.25 L149.90,451.07 L148.20,448.90 L146.54,446.74 L144.93,444.59 L143.36,442.44 L141.84,440.32 L140.37,438.20 L138.94,436.11 L137.57,434.03 L136.25,431.97 L134.98,429.93 L133.77,427.91 L132.60,425.92 L131.50,423.95 L130.45,422.01 L129.45,420.09 L128.51,418.20 L127.63,416.34 L126.81,414.52 L126.04,412.73 L125.34,410.96 L124.69,409.24 L124.11,407.55 L123.58,405.90 L123.12,404.29 L122.72,402.71 L122.37,401.18 L122.10,399.69 L121.88,398.24 L121.72,396.83 L121.63,395.47 L121.60,394.16 L121.63,392.89 L121.72,391.67 L121.88,390.49 L122.10,389.37 L122.37,388.29 L122.72,387.27 L123.12,386.30 L123.58,385.37 L124.11,384.51 L124.69,383.69 L125.34,382.93 L126.04,382.22 L126.81,381.57 L127.63,380.97 L128.51,380.42 L129.45,379.94 L130.45,379.51 L131.50,379.13 L132.60,378.81 L133.77,378.55 L134.98,378.35 L136.25,378.20 L137.57,378.11 L138.94,378.08 L140.37,378.11 L141.84,378.19 L143.36,378.33 L144.93,378.53 L146.54,378.78 L148.20,379.10 L149.90,379.47 L151.65,379.89 L153.44,380.37 L155.26,380.91 L157.13,381.50 L159.04,382.15 L160.98,382.85 L162.95,383.61 L164.97,384.42 L167.01,385.28 L169.08,386.20 L171.19,387.17 L173.32,388.19 L175.48,389.26 L177.66,390.38 L179.87,391.54 L182.10,392.76 L184.35,394.03 L186.62,395.34 L188.91,396.69 L191.22,398.09 L193.54,399.54 L195.87,401.03 L198.21,402.55 L200.56,404.12 L202.93,405.73 L205.29,407.38 L207.67,409.07 L210.04,410.79 L212.42,412.54 L214.80,414.34 L217.17,416.16 L219.54,418.01 L221.91,419.90 L224.27,421.81 L226.63,423.75 L228.97,425.72 L231.30,427.71 L233.62,429.72 L235.93,431.76 L238.21,433.82 L240.48,435.90 L242.74,437.99 L244.97,440.10 L247.17,442.23 L249.36,444.37 L251.52,446.52 L253.65,448.68 L255.76,450.85 L257.83,453.03 L259.87,455.22 L261.88,457.41 L263.86,459.60 L265.80,461.79 L267.71,463.99 L269.57,466.18 L271.40,468.37 L273.19,470.56 L274.94,472.74 L276.64,474.91 L278.30,477.07 L279.91,479.22 L281.48,481.36 L283.00,483.49 L284.47,485.60 L285.89,487.70 L287.27,489.78 L288.59,491.84 L289.86,493.88 L291.07,495.90 L292.23,497.89 L293.34,499.86 L294.39,501.80 L295.39,503.72 L296.33,505.61 L297.21,507.46 L298.03,509.29 L298.80,511.08 L299.50,512.84 L300.15,514.57 L300.73,516.26 L301.26,517.91 L301.72,519.52 L302.12,521.10 L302.46,522.63 L302.74,524.12 L302.96,525.57 L303.12,526.98 L303.21,528.34 L303.24,529.65 Z" fill="none" stroke="#e0303c" stroke-width="1.15"/>
<circle cx="146.50" cy="420.60" r="1.9" fill="none" stroke="#0000ff" stroke-width="1.45"/>
<circle cx="148.30" cy="426.30" r="1.9" fill="none" stroke="#0000ff" stroke-width="1.45"/>
<circle cx="155.90" cy="432.10" r="1.9" fill="none" stroke="#0000ff" stroke-width="1.45"/>
<circle cx="151.40" cy="437.60" r="1.9" fill="none" stroke="#0000ff" stroke-width="1.45"/>
<circle cx="153.00" cy="436.10" r="1.9" fill="none" stroke="#0000ff" stroke-width="1.45"/>
<circle cx="180.80" cy="421.80" r="1.9" fill="none" stroke="#0000ff" stroke-width="1.45"/>
<circle cx="181.60" cy="427.50" r="1.9" fill="none" stroke="#0000ff" stroke-width="1.45"/>
<circle cx="181.20" cy="422.50" r="1.9" fill="none" stroke="#0000ff" stroke-width="1.45"/>
<circle cx="193.40" cy="426.30" r="1.9" fill="none" stroke="#0000ff" stroke-width="1.45"/>
<circle cx="196.10" cy="428.70" r="1.9" fill="none" stroke="#0000ff" stroke-width="1.45"/>
<circle cx="208.60" cy="425.00" r="1.9" fill="none" stroke="#0000ff" stroke-width="1.45"/>
<circle cx="214.50" cy="434.60" r="1.9" fill="none" stroke="#0000ff" stroke-width="1.45"/>
<circle cx="224.10" cy="446.25" r="1.9" fill="none" stroke="#0000ff" stroke-width="1.45"/>
<circle cx="234.40" cy="450.40" r="1.9" fill="none" stroke="#0000ff" stroke-width="1.45"/>
<circle cx="234.40" cy="454.40" r="1.9" fill="none" stroke="#0000ff" stroke-width="1.45"/>
<circle cx="235.60" cy="467.10" r="1.9" fill="none" stroke="#0000ff" stroke-width="1.45"/>
<circle cx="228.10" cy="480.60" r="1.9" fill="none" stroke="#0000ff" stroke-width="1.45"/>
<circle cx="241.25" cy="479.10" r="1.9" fill="none" stroke="#0000ff" stroke-width="1.45"/>
<circle cx="232.50" cy="489.20" r="1.9" fill="none" stroke="#0000ff" stroke-width="1.45"/>
<circle cx="233.10" cy="489.20" r="1.9" fill="none" stroke="#0000ff" stroke-width="1.45"/>
<circle cx="243.40" cy="489.60" r="1.9" fill="none" stroke="#0000ff" stroke-width="1.45"/>
<circle cx="250.40" cy="489.10" r="1.9" fill="none" stroke="#0000ff" stroke-width="1.45"/>
<circle cx="222.25" cy="494.00" r="1.9" fill="none" stroke="#0000ff" stroke-width="1.45"/>
<circle cx="228.10" cy="498.10" r="1.9" fill="none" stroke="#0000ff" stroke-width="1.45"/>
<circle cx="239.70" cy="499.80" r="1.9" fill="none" stroke="#0000ff" stroke-width="1.45"/>
<circle cx="240.30" cy="499.80" r="1.9" fill="none" stroke="#0000ff" stroke-width="1.45"/>
<circle cx="246.90" cy="497.25" r="1.9" fill="none" stroke="#0000ff" stroke-width="1.45"/>
<circle cx="239.40" cy="511.90" r="1.9" fill="none" stroke="#0000ff" stroke-width="1.45"/>
<circle cx="259.00" cy="509.60" r="1.9" fill="none" stroke="#0000ff" stroke-width="1.45"/>
<circle cx="151.40" cy="437.60" r="2.5" fill="#0000ff"/>
<circle cx="153.00" cy="436.10" r="2.5" fill="#0000ff"/>
<circle cx="232.80" cy="489.20" r="0.8" fill="#0000ff"/>
<circle cx="240.00" cy="499.80" r="0.8" fill="#0000ff"/>
<rect x="413.50" y="412.57" width="5.10" height="5.59" fill="#8080ff" stroke="#5a5ab0" stroke-width="0.9"/>
<rect x="413.50" y="418.16" width="14.70" height="5.59" fill="#8080ff" stroke="#5a5ab0" stroke-width="0.9"/>
<rect x="413.50" y="423.75" width="24.30" height="5.59" fill="#8080ff" stroke="#5a5ab0" stroke-width="0.9"/>
<rect x="413.50" y="429.34" width="5.10" height="5.59" fill="#8080ff" stroke="#5a5ab0" stroke-width="0.9"/>
<rect x="413.50" y="434.93" width="14.70" height="5.59" fill="#8080ff" stroke="#5a5ab0" stroke-width="0.9"/>
<rect x="413.50" y="440.52" width="9.90" height="5.59" fill="#8080ff" stroke="#5a5ab0" stroke-width="0.9"/>
<rect x="413.50" y="457.29" width="5.10" height="5.59" fill="#8080ff" stroke="#5a5ab0" stroke-width="0.9"/>
<rect x="413.50" y="462.88" width="9.90" height="5.59" fill="#8080ff" stroke="#5a5ab0" stroke-width="0.9"/>
<rect x="413.50" y="474.06" width="24.30" height="5.59" fill="#8080ff" stroke="#5a5ab0" stroke-width="0.9"/>
<rect x="413.50" y="479.65" width="9.90" height="5.59" fill="#8080ff" stroke="#5a5ab0" stroke-width="0.9"/>
<rect x="413.50" y="485.24" width="19.50" height="5.59" fill="#8080ff" stroke="#5a5ab0" stroke-width="0.9"/>
<line x1="413.5" y1="339.30" x2="413.5" y2="564.10" stroke="#a4a4a4" stroke-width="1.2"/>
<line x1="407.90" y1="339.90" x2="413.50" y2="339.90" stroke="#a4a4a4" stroke-width="1.2"/>
<text x="404.60" y="340.90" text-anchor="end" font-size="13">5.0</text>
<line x1="407.90" y1="384.62" x2="413.50" y2="384.62" stroke="#a4a4a4" stroke-width="1.2"/>
<text x="404.60" y="385.62" text-anchor="end" font-size="13">4.8</text>
<line x1="407.90" y1="429.34" x2="413.50" y2="429.34" stroke="#a4a4a4" stroke-width="1.2"/>
<text x="404.60" y="430.34" text-anchor="end" font-size="13">4.6</text>
<line x1="407.90" y1="474.06" x2="413.50" y2="474.06" stroke="#a4a4a4" stroke-width="1.2"/>
<text x="404.60" y="475.06" text-anchor="end" font-size="13">4.4</text>
<line x1="407.90" y1="518.78" x2="413.50" y2="518.78" stroke="#a4a4a4" stroke-width="1.2"/>
<text x="404.60" y="519.78" text-anchor="end" font-size="13">4.2</text>
<line x1="407.90" y1="563.50" x2="413.50" y2="563.50" stroke="#a4a4a4" stroke-width="1.2"/>
<text x="404.60" y="564.50" text-anchor="end" font-size="13">4.0</text>
<text transform="translate(364.10,451.20) rotate(-90)" text-anchor="middle" font-size="15.6" font-weight="bold" textLength="32.2" lengthAdjust="spacing">GDP</text>
<path d="M444.00,339.80 H667.55 V563.70 H444.00 Z" fill="none" stroke="#222222" stroke-width="1.1"/>
<rect x="481.71" y="583.70" width="18.57" height="10.70" fill="#8080ff" stroke="#5a5ab0" stroke-width="0.9"/>
<rect x="518.85" y="587.98" width="18.57" height="6.42" fill="#8080ff" stroke="#5a5ab0" stroke-width="0.9"/>
<rect x="537.42" y="587.98" width="18.57" height="6.42" fill="#8080ff" stroke="#5a5ab0" stroke-width="0.9"/>
<rect x="556.00" y="583.70" width="18.57" height="10.70" fill="#8080ff" stroke="#5a5ab0" stroke-width="0.9"/>
<rect x="574.57" y="570.86" width="18.57" height="23.54" fill="#8080ff" stroke="#5a5ab0" stroke-width="0.9"/>
<rect x="593.14" y="590.12" width="18.57" height="4.28" fill="#8080ff" stroke="#5a5ab0" stroke-width="0.9"/>
<line x1="443.96" y1="594.4" x2="668.03" y2="594.4" stroke="#a4a4a4" stroke-width="1.2"/>
<line x1="444.56" y1="594.4" x2="444.56" y2="599.80" stroke="#a4a4a4" stroke-width="1.2"/>
<text x="444.86" y="612.90" text-anchor="middle" font-size="13">.60</text>
<line x1="481.71" y1="594.4" x2="481.71" y2="599.80" stroke="#a4a4a4" stroke-width="1.2"/>
<text x="482.01" y="612.90" text-anchor="middle" font-size="13">.65</text>
<line x1="518.85" y1="594.4" x2="518.85" y2="599.80" stroke="#a4a4a4" stroke-width="1.2"/>
<text x="519.15" y="612.90" text-anchor="middle" font-size="13">.70</text>
<line x1="556.00" y1="594.4" x2="556.00" y2="599.80" stroke="#a4a4a4" stroke-width="1.2"/>
<text x="556.29" y="612.90" text-anchor="middle" font-size="13">.75</text>
<line x1="593.14" y1="594.4" x2="593.14" y2="599.80" stroke="#a4a4a4" stroke-width="1.2"/>
<text x="593.44" y="612.90" text-anchor="middle" font-size="13">.80</text>
<line x1="630.28" y1="594.4" x2="630.28" y2="599.80" stroke="#a4a4a4" stroke-width="1.2"/>
<text x="630.58" y="612.90" text-anchor="middle" font-size="13">.85</text>
<line x1="667.43" y1="594.4" x2="667.43" y2="599.80" stroke="#a4a4a4" stroke-width="1.2"/>
<text x="667.73" y="612.90" text-anchor="middle" font-size="13">.90</text>
<text x="556.02" y="638.00" text-anchor="middle" font-size="16" font-weight="bold" textLength="31.9" lengthAdjust="spacing">CO2</text>
<path d="M646.58,504.83 L646.55,505.95 L646.45,507.03 L646.30,508.07 L646.08,509.07 L645.80,510.04 L645.46,510.97 L645.06,511.85 L644.60,512.70 L644.07,513.51 L643.49,514.27 L642.84,515.00 L642.14,515.68 L641.37,516.31 L640.55,516.91 L639.67,517.46 L638.74,517.97 L637.74,518.43 L636.69,518.84 L635.59,519.22 L634.43,519.54 L633.21,519.82 L631.94,520.06 L630.63,520.25 L629.25,520.39 L627.83,520.49 L626.36,520.54 L624.85,520.54 L623.28,520.50 L621.67,520.41 L620.01,520.28 L618.31,520.10 L616.57,519.87 L614.78,519.60 L612.96,519.28 L611.09,518.92 L609.19,518.51 L607.25,518.06 L605.27,517.56 L603.27,517.01 L601.23,516.43 L599.15,515.80 L597.05,515.13 L594.92,514.41 L592.77,513.65 L590.58,512.86 L588.38,512.02 L586.15,511.14 L583.90,510.22 L581.64,509.26 L579.35,508.26 L577.05,507.22 L574.73,506.15 L572.40,505.04 L570.06,503.90 L567.71,502.72 L565.36,501.50 L562.99,500.26 L560.62,498.98 L558.25,497.67 L555.87,496.32 L553.50,494.95 L551.13,493.55 L548.76,492.13 L546.39,490.67 L544.03,489.19 L541.69,487.69 L539.34,486.16 L537.02,484.61 L534.70,483.03 L532.40,481.44 L530.11,479.83 L527.85,478.19 L525.60,476.54 L523.37,474.88 L521.16,473.20 L518.98,471.51 L516.83,469.80 L514.70,468.08 L512.59,466.35 L510.52,464.62 L508.48,462.87 L506.47,461.12 L504.50,459.36 L502.56,457.60 L500.66,455.83 L498.79,454.07 L496.97,452.30 L495.18,450.53 L493.44,448.77 L491.74,447.00 L490.08,445.24 L488.47,443.49 L486.90,441.74 L485.38,440.00 L483.91,438.27 L482.49,436.55 L481.12,434.85 L479.80,433.15 L478.54,431.47 L477.32,429.80 L476.16,428.15 L475.06,426.51 L474.01,424.90 L473.01,423.30 L472.08,421.72 L471.20,420.17 L470.37,418.63 L469.61,417.12 L468.91,415.64 L468.26,414.18 L467.68,412.75 L467.15,411.34 L466.69,409.96 L466.29,408.62 L465.95,407.30 L465.67,406.01 L465.45,404.76 L465.30,403.54 L465.20,402.35 L465.17,401.20 L465.20,400.09 L465.30,399.01 L465.45,397.97 L465.67,396.96 L465.95,395.99 L466.29,395.07 L466.69,394.18 L467.15,393.33 L467.68,392.53 L468.26,391.76 L468.91,391.04 L469.61,390.36 L470.37,389.72 L471.20,389.12 L472.08,388.57 L473.01,388.07 L474.01,387.61 L475.06,387.19 L476.16,386.82 L477.32,386.49 L478.54,386.21 L479.80,385.98 L481.12,385.79 L482.49,385.64 L483.91,385.55 L485.38,385.50 L486.90,385.49 L488.47,385.53 L490.08,385.62 L491.74,385.76 L493.44,385.94 L495.18,386.16 L496.97,386.43 L498.79,386.75 L500.66,387.12 L502.56,387.52 L504.50,387.98 L506.47,388.48 L508.48,389.02 L510.52,389.60 L512.59,390.23 L514.70,390.91 L516.83,391.62 L518.98,392.38 L521.16,393.18 L523.37,394.02 L525.60,394.90 L527.85,395.82 L530.11,396.78 L532.40,397.77 L534.70,398.81 L537.02,399.88 L539.34,400.99 L541.69,402.14 L544.03,403.32 L546.39,404.53 L548.76,405.78 L551.13,407.06 L553.50,408.37 L555.87,409.71 L558.25,411.08 L560.62,412.48 L562.99,413.91 L565.36,415.36 L567.71,416.84 L570.06,418.35 L572.40,419.88 L574.73,421.43 L577.05,423.00 L579.35,424.59 L581.64,426.21 L583.90,427.84 L586.15,429.49 L588.38,431.15 L590.58,432.83 L592.77,434.53 L594.92,436.23 L597.05,437.95 L599.15,439.68 L601.23,441.42 L603.27,443.16 L605.27,444.91 L607.25,446.67 L609.19,448.43 L611.09,450.20 L612.96,451.97 L614.78,453.73 L616.57,455.50 L618.31,457.27 L620.01,459.03 L621.67,460.79 L623.28,462.54 L624.85,464.29 L626.36,466.03 L627.83,467.76 L629.25,469.48 L630.63,471.19 L631.94,472.88 L633.21,474.57 L634.43,476.23 L635.59,477.89 L636.69,479.52 L637.74,481.14 L638.74,482.74 L639.67,484.31 L640.55,485.87 L641.37,487.40 L642.14,488.91 L642.84,490.40 L643.49,491.86 L644.07,493.29 L644.60,494.69 L645.06,496.07 L645.46,497.42 L645.80,498.73 L646.08,500.02 L646.30,501.27 L646.45,502.49 L646.55,503.68 L646.58,504.83 Z" fill="none" stroke="#e0303c" stroke-width="1.15"/>
<circle cx="490.00" cy="421.50" r="1.9" fill="none" stroke="#0000ff" stroke-width="1.45"/>
<circle cx="492.10" cy="424.80" r="1.9" fill="none" stroke="#0000ff" stroke-width="1.45"/>
<circle cx="499.50" cy="431.70" r="1.9" fill="none" stroke="#0000ff" stroke-width="1.45"/>
<circle cx="494.70" cy="437.70" r="1.9" fill="none" stroke="#0000ff" stroke-width="1.45"/>
<circle cx="497.00" cy="435.80" r="1.9" fill="none" stroke="#0000ff" stroke-width="1.45"/>
<circle cx="524.10" cy="419.30" r="1.9" fill="none" stroke="#0000ff" stroke-width="1.45"/>
<circle cx="523.70" cy="422.70" r="1.9" fill="none" stroke="#0000ff" stroke-width="1.45"/>
<circle cx="525.30" cy="426.80" r="1.9" fill="none" stroke="#0000ff" stroke-width="1.45"/>
<circle cx="537.10" cy="424.80" r="1.9" fill="none" stroke="#0000ff" stroke-width="1.45"/>
<circle cx="539.70" cy="427.40" r="1.9" fill="none" stroke="#0000ff" stroke-width="1.45"/>
<circle cx="551.90" cy="416.50" r="1.9" fill="none" stroke="#0000ff" stroke-width="1.45"/>
<circle cx="557.80" cy="425.20" r="1.9" fill="none" stroke="#0000ff" stroke-width="1.45"/>
<circle cx="567.50" cy="437.75" r="1.9" fill="none" stroke="#0000ff" stroke-width="1.45"/>
<circle cx="577.75" cy="442.10" r="1.9" fill="none" stroke="#0000ff" stroke-width="1.45"/>
<circle cx="577.75" cy="445.40" r="1.9" fill="none" stroke="#0000ff" stroke-width="1.45"/>
<circle cx="579.10" cy="457.90" r="1.9" fill="none" stroke="#0000ff" stroke-width="1.45"/>
<circle cx="571.90" cy="467.25" r="1.9" fill="none" stroke="#0000ff" stroke-width="1.45"/>
<circle cx="584.75" cy="467.25" r="1.9" fill="none" stroke="#0000ff" stroke-width="1.45"/>
<circle cx="575.80" cy="477.40" r="1.9" fill="none" stroke="#0000ff" stroke-width="1.45"/>
<circle cx="576.40" cy="477.40" r="1.9" fill="none" stroke="#0000ff" stroke-width="1.45"/>
<circle cx="586.80" cy="475.20" r="1.9" fill="none" stroke="#0000ff" stroke-width="1.45"/>
<circle cx="593.70" cy="474.40" r="1.9" fill="none" stroke="#0000ff" stroke-width="1.45"/>
<circle cx="590.10" cy="479.20" r="1.9" fill="none" stroke="#0000ff" stroke-width="1.45"/>
<circle cx="565.60" cy="480.20" r="1.9" fill="none" stroke="#0000ff" stroke-width="1.45"/>
<circle cx="571.60" cy="484.80" r="1.9" fill="none" stroke="#0000ff" stroke-width="1.45"/>
<circle cx="583.50" cy="484.50" r="1.9" fill="none" stroke="#0000ff" stroke-width="1.45"/>
<circle cx="584.10" cy="485.60" r="1.9" fill="none" stroke="#0000ff" stroke-width="1.45"/>
<circle cx="582.90" cy="488.10" r="1.9" fill="none" stroke="#0000ff" stroke-width="1.45"/>
<circle cx="602.25" cy="488.10" r="1.9" fill="none" stroke="#0000ff" stroke-width="1.45"/>
<circle cx="494.70" cy="437.70" r="2.5" fill="#0000ff"/>
<circle cx="497.00" cy="435.80" r="2.5" fill="#0000ff"/>
<circle cx="576.10" cy="477.40" r="0.9" fill="#0000ff"/>
</svg></body></html>
